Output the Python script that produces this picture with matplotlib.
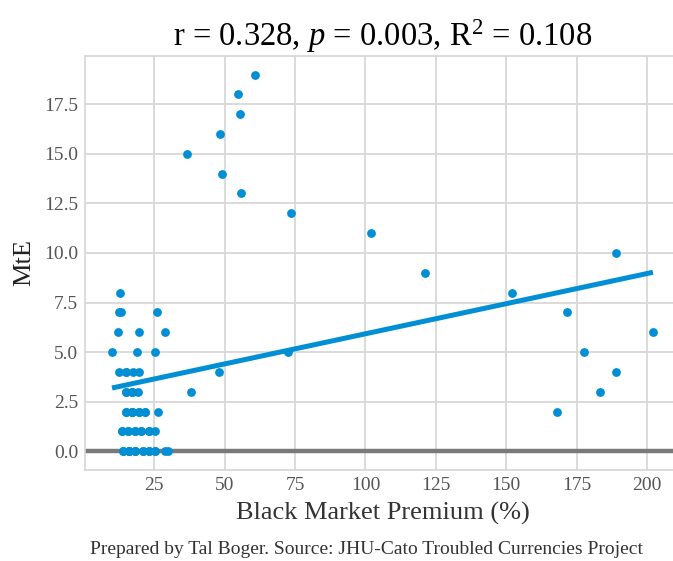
import matplotlib
matplotlib.use("Agg")
import matplotlib.pyplot as plt
import numpy as np

# black market premium (%) and MtE.
# the low-left cluster has many stacked points (n=79 from the p-value)
premium = [60.8, 54.6, 55.4, 48.2, 36.7, 49.1, 55.8, 73.7, 102.1, 189.1,
           121.3, 152.0, 171.5, 202.1, 177.8, 72.6, 189.0, 48.0, 183.4, 37.9,
           167.9,
           12.8,
           12.4, 13.2, 25.9,
           12.0, 19.6, 28.8,
           10.0, 19.0, 25.3,
           12.6, 15.0, 17.3, 19.6, 15.0,
           15.0, 17.1, 19.2, 15.0, 17.1,
           15.0, 17.2, 19.4, 21.6, 26.5, 15.0, 17.2, 19.4, 21.6, 17.2,
           13.6, 15.8, 18.0, 20.4, 23.0, 25.2, 13.6, 15.8, 18.0, 20.4, 23.0,
           13.8, 16.0, 18.3, 21.0, 23.2, 25.4, 28.8, 30.0,
           13.8, 16.0, 18.3, 21.0, 23.2, 25.4, 16.0, 18.3, 16.0]
mte = [19, 18, 17, 16, 15, 14, 13, 12, 11, 10,
       9, 8, 7, 6, 5, 5, 4, 4, 3, 3,
       2,
       8,
       7, 7, 7,
       6, 6, 6,
       5, 5, 5,
       4, 4, 4, 4, 4,
       3, 3, 3, 3, 3,
       2, 2, 2, 2, 2, 2, 2, 2, 2, 2,
       1, 1, 1, 1, 1, 1, 1, 1, 1, 1, 1,
       0, 0, 0, 0, 0, 0, 0, 0,
       0, 0, 0, 0, 0, 0, 0, 0, 0]

title_text = r"r = 0.328, $p$ = 0.003, R$^2$ = 0.108"
x_label = "Black Market Premium (%)"
y_label = "MtE"
caption = "Prepared by Tal Boger. Source: JHU-Cato Troubled Currencies Project"

plt.rcParams["font.family"] = ["Liberation Serif", "DejaVu Serif"]
plt.rcParams["mathtext.fontset"] = "custom"
plt.rcParams["mathtext.rm"] = "Liberation Serif"
plt.rcParams["mathtext.it"] = "Liberation Serif:italic"

blue = "#008fd5"

x = np.array(premium)
y = np.array(mte)
# least squares fit, drawn over the data range
slope, intercept = np.polyfit(x, y, 1)

fig = plt.figure(figsize=(6.73, 5.61), dpi=100)
ax = fig.add_axes([0.1263, 0.1622, 0.884, 0.7385])
ax.set_facecolor("white")
for s in ax.spines.values():
    s.set_color("#d5d5d5")
    s.set_linewidth(1.2)
ax.grid(True, color="#d8d8d8", linewidth=1.3)
ax.set_axisbelow(True)

ax.axhline(0, color="#7a7a7a", linewidth=3.2, zorder=1)
ax.scatter(x, y, s=40, color=blue, zorder=3, linewidths=0)
xx = np.array([x.min(), x.max()])
ax.plot(xx, intercept + slope * xx, color=blue, linewidth=3.6, zorder=4,
        solid_capstyle="butt")

ax.set_yticks(np.arange(0, 17.6, 2.5))
ax.tick_params(length=0, labelsize=14, colors="#555555", pad=5)
ax.set_xlabel(x_label, fontsize=19, color="#333333", labelpad=6)
ax.set_ylabel(y_label, fontsize=19, color="#222222", labelpad=6)
ax.set_title(title_text, fontsize=23.5, pad=7)

fig.text(0.545, 0.012, caption, ha="center", fontsize=14, color="#333333")

fig.savefig("out.png", dpi=100, facecolor="white")
